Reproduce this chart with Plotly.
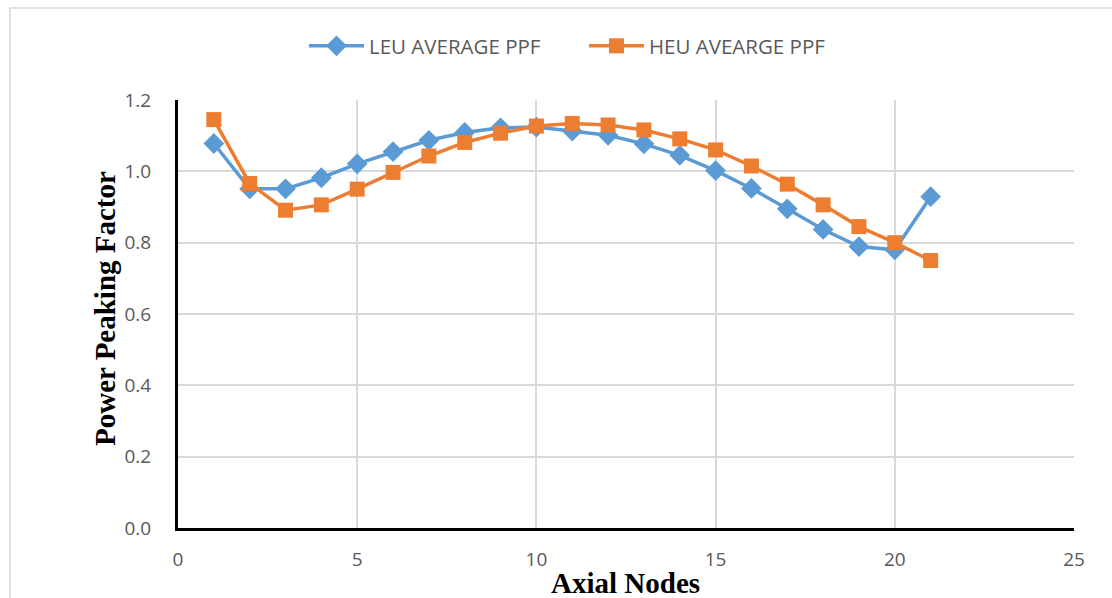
import plotly.graph_objects as go

nodes = list(range(1, 22))
leu_ppf = [1.078, 0.951, 0.951, 0.982, 1.021, 1.055, 1.087, 1.109, 1.122, 1.124,
           1.113, 1.101, 1.077, 1.045, 1.002, 0.952, 0.895, 0.837, 0.789, 0.780, 0.929]
heu_ppf = [1.145, 0.966, 0.891, 0.906, 0.950, 0.997, 1.043, 1.081, 1.107, 1.127,
           1.134, 1.130, 1.116, 1.091, 1.060, 1.015, 0.964, 0.906, 0.845, 0.800, 0.750]

x_ticks = [0, 5, 10, 15, 20, 25]
y_ticks = [0.0, 0.2, 0.4, 0.6, 0.8, 1.0, 1.2]

BLUE = "#5B9BD5"
ORANGE = "#ED7D31"
GRID = "#D9D9D9"
TXT = "#595959"
TICK_FONT = "Liberation Sans Narrow, Open Sans, sans-serif"
TITLE_FONT = "Liberation Serif, Times New Roman, serif"

W, H = 1112, 598
L, R, T, B = 178, 38, 100, 70
pw, ph = W - L - R, H - T - B

fig = go.Figure()
fig.add_trace(go.Scatter(
    x=nodes, y=leu_ppf, name="LEU AVERAGE PPF", mode="lines+markers",
    line=dict(color=BLUE, width=3.5),
    marker=dict(symbol="diamond", size=16, color=BLUE),
))
fig.add_trace(go.Scatter(
    x=nodes, y=heu_ppf, name="HEU AVEARGE PPF", mode="lines+markers",
    line=dict(color=ORANGE, width=3.5),
    marker=dict(symbol="square", size=15, color=ORANGE),
))

def px_x(p):
    return (p - L) / pw

def px_y(p):
    return 1 - (p - T) / ph

fig.update_layout(
    width=W, height=H,
    margin=dict(l=L, r=R, t=T, b=B),
    paper_bgcolor="white", plot_bgcolor="white",
    showlegend=True,
    legend=dict(
        orientation="h", x=px_x(304), y=px_y(46), xanchor="left", yanchor="middle",
        font=dict(family=TICK_FONT, size=20.5, color=TXT),
        itemwidth=55, entrywidth=210, bgcolor="rgba(0,0,0,0)",
    ),
    xaxis=dict(
        range=[0, 25], tickvals=x_ticks, ticktext=[str(v) for v in x_ticks],
        showgrid=True, gridcolor=GRID, gridwidth=1.5, zeroline=False,
        showline=True, linecolor="black", linewidth=3, ticks="",
        tickfont=dict(family=TICK_FONT, size=19, color=TXT),
        ticklabelstandoff=12,
    ),
    yaxis=dict(
        range=[0, 1.2], tickvals=y_ticks, ticktext=[f"{v:.1f}" for v in y_ticks],
        showgrid=True, gridcolor=GRID, gridwidth=1.5, zeroline=False,
        showline=True, linecolor="black", linewidth=3, ticks="",
        tickfont=dict(family=TICK_FONT, size=19, color=TXT),
        ticklabelstandoff=20,
    ),
    shapes=[dict(
        type="rect", xref="paper", yref="paper",
        x0=px_x(10), x1=px_x(1125), y0=px_y(610), y1=px_y(8),
        line=dict(color="#D9D9D9", width=1.5), fillcolor="rgba(0,0,0,0)", layer="below",
    )],
    annotations=[
        dict(text="<b>Axial Nodes</b>", xref="paper", yref="paper",
             x=px_x(625), y=px_y(583), xanchor="center", yanchor="middle", showarrow=False,
             font=dict(family=TITLE_FONT, size=29, color="black")),
        dict(text="<b>Power Peaking Factor</b>", xref="paper", yref="paper",
             x=px_x(105), y=px_y(309), xanchor="center", yanchor="middle", showarrow=False,
             textangle=-90,
             font=dict(family=TITLE_FONT, size=29, color="black")),
    ],
)

fig.write_html("out.html")
